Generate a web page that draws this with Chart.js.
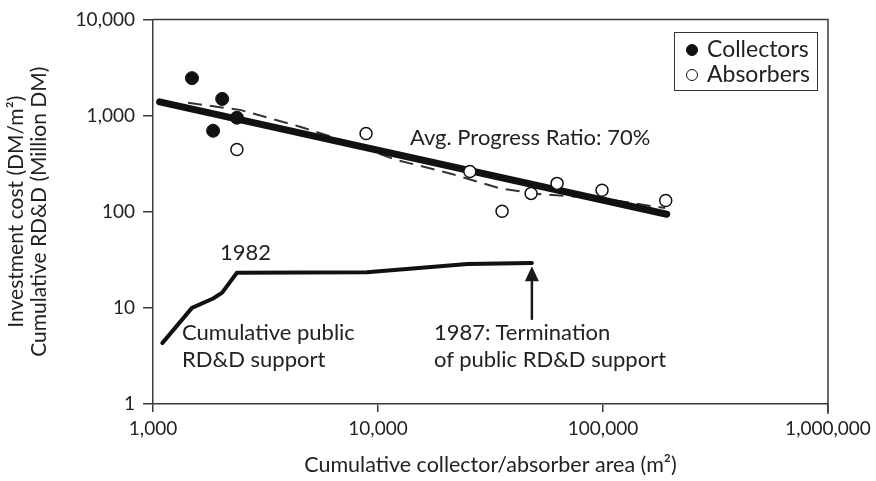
<!DOCTYPE html>
<html>
<head>
<meta charset="utf-8">
<script src="https://cdn.jsdelivr.net/npm/chart.js@4.4.1/dist/chart.umd.min.js"></script>
<style>
  body { margin: 0; background: #fff; }
  #wrap { position: relative; width: 876px; height: 481px; font-family: Lato, sans-serif; color: #222; }
  .note { position: absolute; font-size: 22px; line-height: 27px; white-space: nowrap; }
  #legend { position: absolute; left: 674px; top: 32px; width: 144px; height: 59px; border: 1px solid #333; box-sizing: border-box; }
  .dot { position: absolute; width: 12px; height: 12px; border-radius: 50%; box-sizing: border-box; border: 1.5px solid #111; }
</style>
</head>
<body>
<div id="wrap">
  <canvas id="learningChart" width="876" height="481"></canvas>
  <div id="legend"></div>
  <span class="dot" style="left:686px; top:44px; background:#111;"></span>
  <span class="dot" style="left:686px; top:69px; background:#fff;"></span>
  <div class="note" style="left:707px; top:35px; font-size:23px;">Collectors</div>
  <div class="note" style="left:707px; top:60px; font-size:23px;">Absorbers</div>
  <div class="note" style="left:410px; top:123px;">Avg. Progress Ratio: 70%</div>
  <div class="note" style="left:220px; top:238px;">1982</div>
  <div class="note" style="left:182px; top:318px;">Cumulative public<br>RD&amp;D support</div>
  <div class="note" style="left:434px; top:318px;">1987: Termination<br>of public RD&amp;D support</div>
</div>
<script>
// collectors (filled dots)
var collectorsX = [1490, 2030, 1850, 2360];
var collectorsY = [2450, 1490, 695, 950];
// absorbers (open dots)
var absorbersX = [2360, 8850, 25600, 35600, 47900, 62500, 99000, 190000];
var absorbersY = [443, 650, 262, 101, 155, 197, 167, 131];
// fitted progress ratio line
var trendX = [1070, 192000];
var trendY = [1390, 94];
// dashed line
var dashX = [1431, 2436, 4500, 7510, 11900, 20900, 34800, 52500, 97000, 189000];
var dashY = [1355, 1146, 766, 522, 349, 250, 175, 152, 138, 109];
// cumulative public RD&D (Million DM)
var rddX = [1100, 1490, 1850, 2030, 2360, 8930, 25000, 48300];
var rddY = [4.3, 10, 12.5, 14.4, 23.2, 23.5, 28.5, 29.3];
// arrow for 1987 note
var arrowX = 48300;
var arrowFrom = 7.5;
var arrowTo = 27;
// ticks
var xTicks = [1000, 10000, 100000, 1000000];
var yTicks = [1, 10, 100, 1000, 10000];

function toPoints(xs, ys) {
    var pts = [];
    for (var i = 0; i < xs.length; i++) {
        pts.push({ x: xs[i], y: ys[i] });
    }
    return pts;
}

var axisColor = '#3a3a3a';

var framePlugin = {
    id: 'frame',
    afterDraw: function (chart) {
        var ctx = chart.ctx;
        var a = chart.chartArea;
        ctx.save();
        ctx.strokeStyle = axisColor;
        ctx.lineWidth = 1.5;
        ctx.beginPath();
        ctx.moveTo(a.left, a.top);
        ctx.lineTo(a.right, a.top);
        ctx.lineTo(a.right, a.bottom + 10);
        ctx.stroke();
        // arrow
        var xs = chart.scales.x, ys = chart.scales.y;
        var px = xs.getPixelForValue(arrowX);
        var y0 = ys.getPixelForValue(arrowFrom);
        var y1 = ys.getPixelForValue(arrowTo);
        ctx.strokeStyle = '#1a1a1a';
        ctx.fillStyle = '#1a1a1a';
        ctx.lineWidth = 2.5;
        ctx.beginPath();
        ctx.moveTo(px, y0);
        ctx.lineTo(px, y1 + 12);
        ctx.stroke();
        ctx.beginPath();
        ctx.moveTo(px, y1);
        ctx.lineTo(px - 7, y1 + 15);
        ctx.lineTo(px + 7, y1 + 15);
        ctx.closePath();
        ctx.fill();
        ctx.restore();
    }
};

var ctx = document.getElementById('learningChart').getContext('2d');
var learningChart = new Chart(ctx, {
    type: 'scatter',
    data: {
        datasets: [{
            label: 'Collectors',
            data: toPoints(collectorsX, collectorsY),
            backgroundColor: '#111',
            borderColor: '#111',
            pointRadius: 6.5,
            borderWidth: 1
        }, {
            label: 'Absorbers',
            data: toPoints(absorbersX, absorbersY),
            backgroundColor: '#fff',
            borderColor: '#111',
            pointRadius: 6,
            borderWidth: 1.5
        }, {
            label: 'Trend',
            data: toPoints(trendX, trendY),
            showLine: true,
            borderColor: '#111',
            borderWidth: 7,
            borderCapStyle: 'round',
            pointRadius: 0
        }, {
            label: 'Dashed',
            data: toPoints(dashX, dashY),
            showLine: true,
            borderColor: '#333',
            borderWidth: 2,
            borderDash: [14, 8],
            pointRadius: 0
        }, {
            label: 'RD&D',
            data: toPoints(rddX, rddY),
            showLine: true,
            borderColor: '#111',
            borderWidth: 4,
            borderJoinStyle: 'round',
            borderCapStyle: 'round',
            pointRadius: 0
        }]
    },
    options: {
        responsive: false,
        animation: false,
        layout: { padding: { top: 17, right: 48, left: 0, bottom: 0 } },
        plugins: {
            legend: { display: false },
            tooltip: { enabled: false }
        },
        scales: {
            x: {
                type: 'logarithmic',
                min: 1000,
                max: 1000000,
                afterBuildTicks: function (scale) {
                    scale.ticks = xTicks.map(function (v) { return { value: v }; });
                },
                afterFit: function (scale) { scale.height = 77; },
                ticks: {
                    color: '#222',
                    font: { family: 'Lato', size: 19 },
                    padding: 5,
                    maxRotation: 0,
                    callback: function (v) { return Number(v).toLocaleString('en-US'); }
                },
                grid: { drawOnChartArea: false, tickLength: 8, color: axisColor, lineWidth: 1.5 },
                border: { color: axisColor, width: 1.5 },
                title: {
                    display: true,
                    text: 'Cumulative collector/absorber area (m²)',
                    color: '#222',
                    font: { family: 'Lato', size: 21.5 },
                    padding: { top: 0, bottom: 3 }
                }
            },
            y: {
                type: 'logarithmic',
                min: 1,
                max: 10000,
                afterBuildTicks: function (scale) {
                    scale.ticks = yTicks.map(function (v) { return { value: v }; });
                },
                afterFit: function (scale) { scale.width = 153; },
                ticks: {
                    color: '#222',
                    font: { family: 'Lato', size: 19 },
                    padding: 8,
                    callback: function (v) { return Number(v).toLocaleString('en-US'); }
                },
                grid: { drawOnChartArea: false, tickLength: 10, color: axisColor, lineWidth: 1.5 },
                border: { color: axisColor, width: 1.5 },
                title: {
                    display: true,
                    text: ['Investment cost (DM/m²)', 'Cumulative RD&D (Million DM)'],
                    color: '#222',
                    font: { family: 'Lato', size: 21, lineHeight: 1.1 },
                    padding: { top: 5, bottom: 0 }
                }
            }
        }
    },
    plugins: [framePlugin]
});
</script>
</body>
</html>
